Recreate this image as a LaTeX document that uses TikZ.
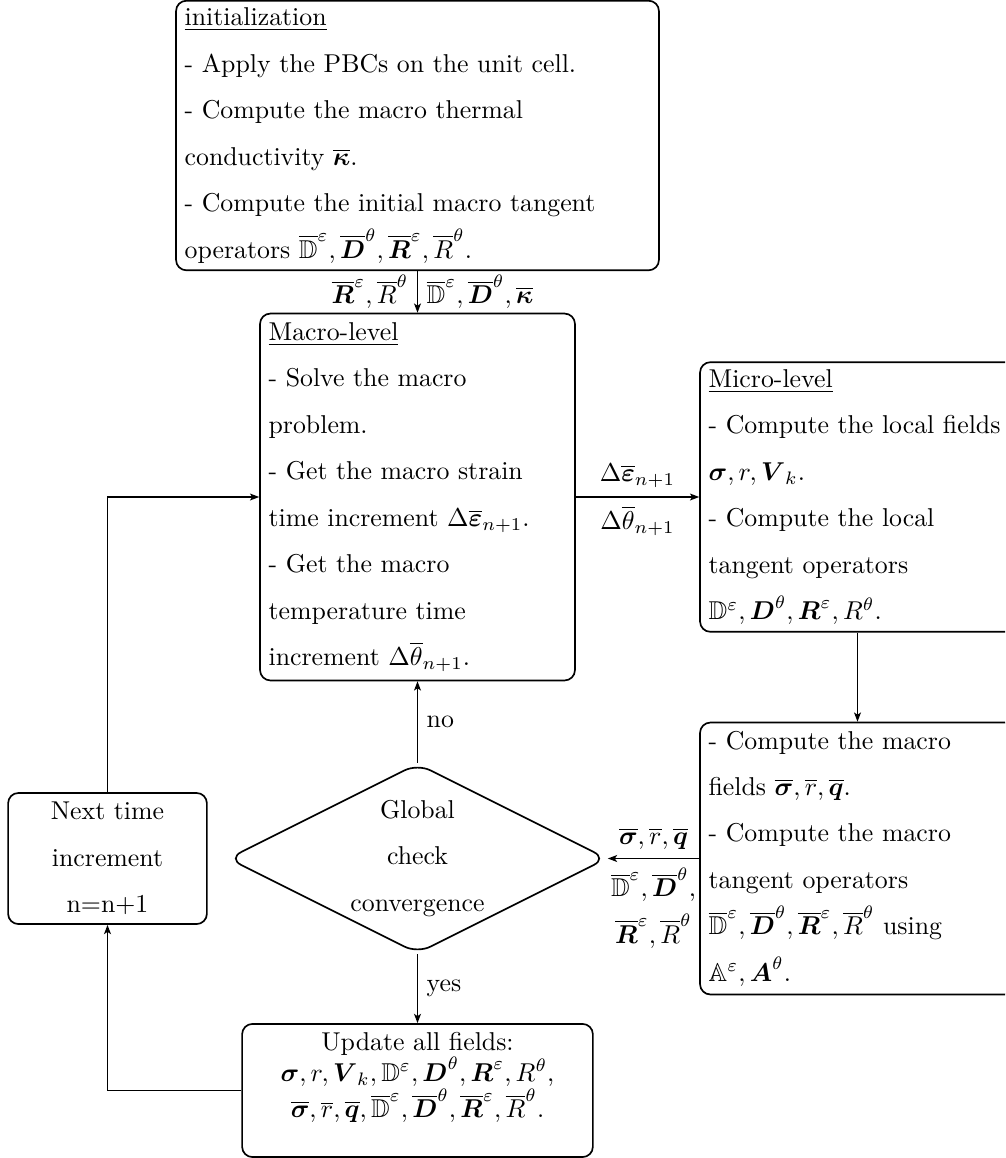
\documentclass[tikz,border=0pt]{standalone}
\usepackage{amsmath,amssymb}
\usetikzlibrary{shapes.geometric,arrows.meta}
\tikzset{
  txtbox/.style={draw, line width=0.65pt, rounded corners=4pt, align=left,
    inner xsep=3.33pt, inner ysep=2.8pt, font=\fontsize{10}{18}\selectfont, anchor=center},
  ctrbox/.style={txtbox, align=center},
  arr/.style={line width=0.5pt, -{Stealth[length=3.6pt,width=2.7pt,inset=0.9pt]}},
  lab/.style={font=\fontsize{10}{18}\selectfont, align=center, inner sep=3.33pt},
  decbox/.style={draw, shape=diamond, shape aspect=2, inner sep=0pt,
    minimum width=146.9pt, minimum height=73.6pt, rounded corners=5.5pt,
    line width=0.65pt, align=center, font=\fontsize{10}{18}\selectfont}
}
\begin{document}
\begin{tikzpicture}[x=0.3876pt,y=-0.3876pt]
\useasboundingbox (0,0) rectangle (1005,1158);
\clip (0,0) rectangle (1005,1158);

\node[txtbox, text width=180.5pt, minimum height=104.3pt] (init) at (417.5,135.5) {%
\underline{initialization}\\
- Apply the PBCs on the unit cell.\\
- Compute the macro thermal\\
conductivity $\overline{\boldsymbol{\kappa}}$.\\
- Compute the initial macro tangent\\
operators $\overline{\mathbb{D}}^{\varepsilon}, \overline{\boldsymbol{D}}^{\theta}, \overline{\boldsymbol{R}}^{\varepsilon}, \overline{R}^{\theta}$.};

\node[txtbox, text width=115.4pt, minimum height=142.2pt] (macro) at (417.5,497) {%
\underline{Macro-level}\\
- Solve the macro\\
problem.\\
- Get the macro strain\\
time increment $\Delta\overline{\boldsymbol{\varepsilon}}_{n+1}$.\\
- Get the macro\\
temperature time\\
increment $\Delta\overline{\theta}_{n+1}$.};

\node[txtbox, text width=115.4pt, minimum height=104.5pt] (micro) at (857.5,497) {%
\underline{Micro-level}\\
- Compute the local fields\\
$\boldsymbol{\sigma}, r, \boldsymbol{V}_k$.\\
- Compute the local\\
tangent operators\\
$\mathbb{D}^{\varepsilon}, \boldsymbol{D}^{\theta}, \boldsymbol{R}^{\varepsilon}, R^{\theta}$.};

\node[txtbox, text width=115.4pt, minimum height=105.4pt] (lr) at (857.5,858.5) {%
- Compute the macro\\
fields $\overline{\boldsymbol{\sigma}}, \overline{r}, \overline{\boldsymbol{q}}$.\\
- Compute the macro\\
tangent operators\\
$\overline{\mathbb{D}}^{\varepsilon}, \overline{\boldsymbol{D}}^{\theta}, \overline{\boldsymbol{R}}^{\varepsilon}, \overline{R}^{\theta}$ using\\
$\mathbb{A}^{\varepsilon}, \boldsymbol{A}^{\theta}$.};

\node[decbox] (dia) at (417.5,858.5) {Global\\check\\convergence};

\node[ctrbox, text width=70.4pt, minimum height=50.8pt] (next) at (107.5,858.5) {Next time\\increment\\n=n+1};

\node[ctrbox, text width=129.3pt, minimum height=51.6pt, font=\normalsize] (upd) at (417.5,1090.5) {%
Update all fields:\\
$\boldsymbol{\sigma}, r, \boldsymbol{V}_k, \mathbb{D}^{\varepsilon}, \boldsymbol{D}^{\theta}, \boldsymbol{R}^{\varepsilon}, R^{\theta}$,\\
$\overline{\boldsymbol{\sigma}}, \overline{r}, \overline{\boldsymbol{q}}, \overline{\mathbb{D}}^{\varepsilon}, \overline{\boldsymbol{D}}^{\theta}, \overline{\boldsymbol{R}}^{\varepsilon}, \overline{R}^{\theta}$.\rule[-12pt]{0pt}{12pt}};

\draw[arr] (init.south) -- (macro.north)
  node[lab, midway, left] {$\overline{\boldsymbol{R}}^{\varepsilon}, \overline{R}^{\theta}$}
  node[lab, midway, right] {$\overline{\mathbb{D}}^{\varepsilon}, \overline{\boldsymbol{D}}^{\theta}, \overline{\boldsymbol{\kappa}}$};
\draw[arr] (macro.east) -- (micro.west)
  node[lab, midway, above] {$\Delta\overline{\boldsymbol{\varepsilon}}_{n+1}$}
  node[lab, midway, below] {$\Delta\overline{\theta}_{n+1}$};
\draw[arr] (micro.south) -- (lr.north);
\draw[arr] (lr.west) -- (dia.east)
  node[lab, midway, above] {$\overline{\boldsymbol{\sigma}}, \overline{r}, \overline{\boldsymbol{q}}$}
  node[lab, midway, below] {$\overline{\mathbb{D}}^{\varepsilon}, \overline{\boldsymbol{D}}^{\theta}$,\\$\overline{\boldsymbol{R}}^{\varepsilon}, \overline{R}^{\theta}$};
\draw[arr] (dia.north) -- (macro.south) node[lab, midway, right] {no};
\draw[arr] (dia.south) -- (upd.north) node[lab, midway, right] {yes};
\draw[arr] (upd.west) -| (next.south);
\draw[arr] (next.north) |- (macro.west);
\end{tikzpicture}
\end{document}
